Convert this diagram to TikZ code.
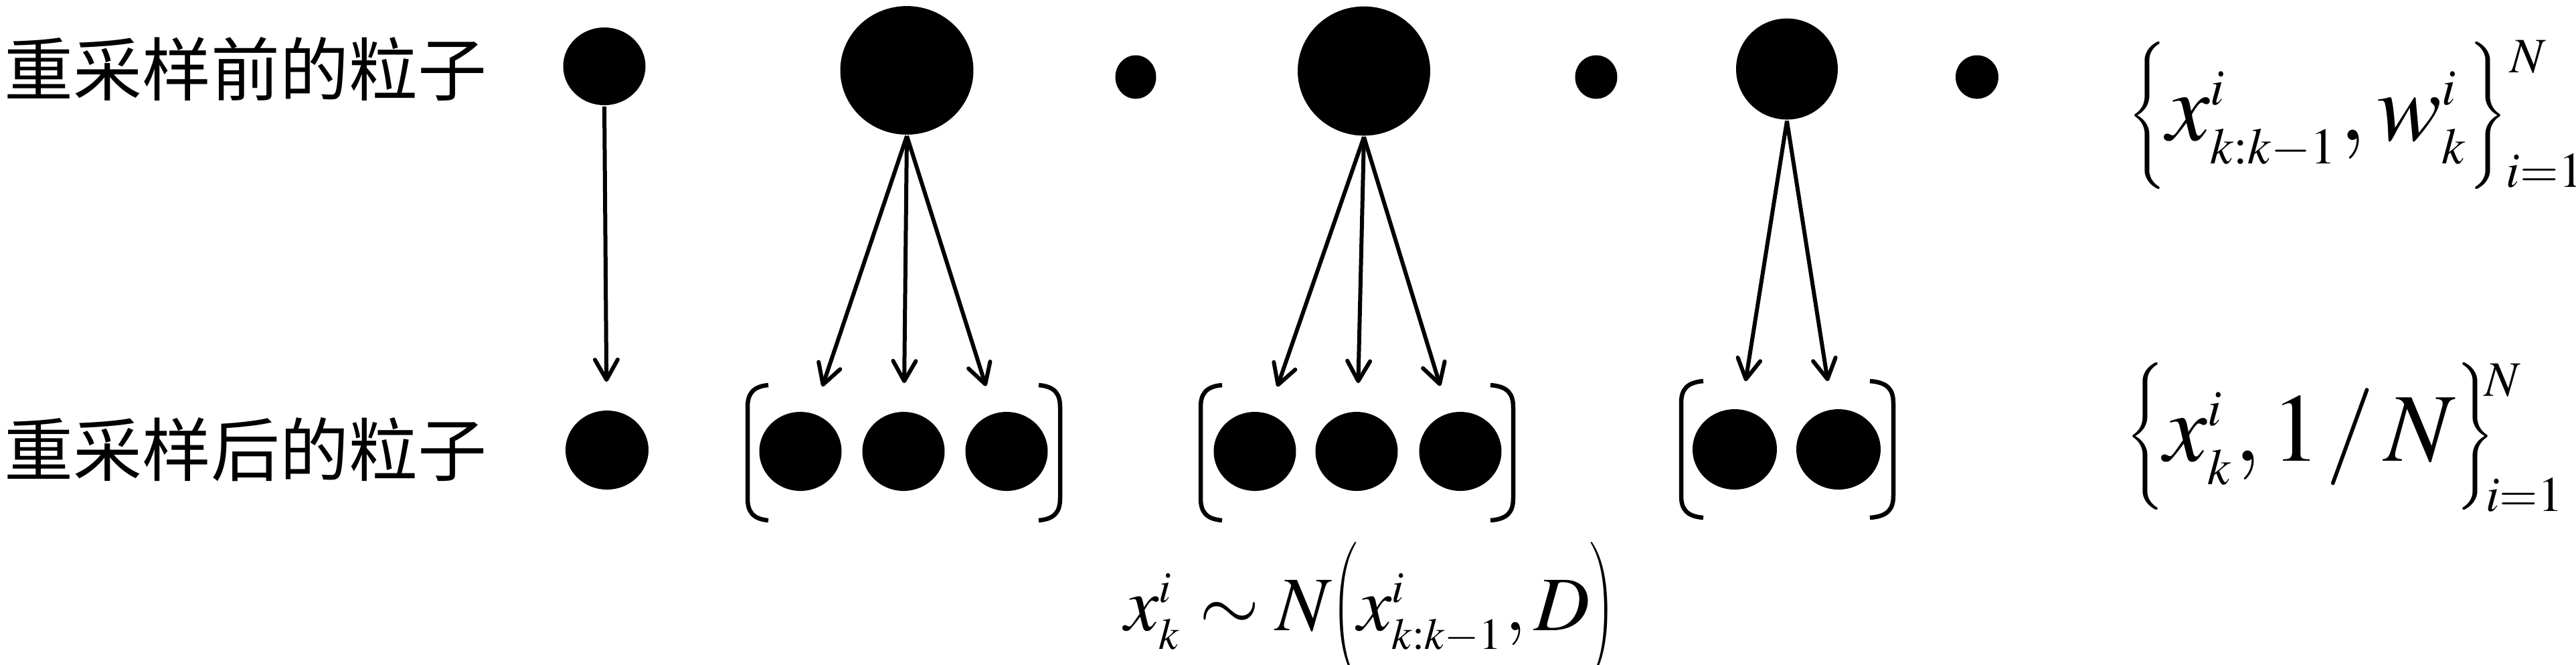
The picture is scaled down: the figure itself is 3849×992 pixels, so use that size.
\documentclass[tikz,border=0pt]{standalone}
\usepackage{mathptmx}
\usepackage{graphicx}
\usepackage[no-math]{fontspec}
\newfontfamily\cjk{Noto Sans CJK SC}
\usetikzlibrary{arrows.meta,shapes.geometric}
\DeclareMathSizes{14.5}{14.5}{7.6}{6}
\DeclareMathSizes{11.5}{11.5}{6.6}{5}
\DeclareMathSizes{7.4}{7.4}{5.5}{5}
\newcommand\myLbrace[2]{\mathopen{\vcenter{\hbox{\resizebox*{#1}{#2}{$\Biggl\{$}}}}}
\newcommand\myRbrace[2]{\mathclose{\vcenter{\hbox{\resizebox*{#1}{#2}{$\Biggr\}$}}}}}
\newcommand\myLparen[2]{\mathopen{\vcenter{\hbox{\resizebox*{#1}{#2}{$\Biggl($}}}}}
\newcommand\myRparen[2]{\mathclose{\vcenter{\hbox{\resizebox*{#1}{#2}{$\Biggr)$}}}}}
\tikzset{
  ptc/.style n args={2}{ellipse,fill=black,draw=none,inner sep=0pt,minimum width=#1,minimum height=#2},
  arr/.style={-{Straight Barb[length=3pt,width=3.4pt,round]},line width=0.6pt,shorten >=4.1pt},
  brk/.style={line width=0.65pt},
  lbl/.style={inner sep=0pt,font=\cjk\fontsize{10.3}{12}\selectfont},
  fml/.style={inner sep=0pt},
  lim/.style={inner sep=0pt,anchor=base west,font=\fontsize{7.4}{9}\selectfont},
}
\begin{document}
\begin{tikzpicture}[x=0.1pt,y=-0.1pt]
\useasboundingbox (0,0) rectangle (3849,992);
% labels
\node[lbl,anchor=west] (t1) at (5,103) {重采样前的粒子};
\node[lbl,anchor=west] (t2) at (5,671) {重采样后的粒子};
% top particles
\node[ptc={12.3pt}{11.6pt}] (a1) at (903,99) {};
\node[ptc={19.9pt}{19.2pt}] (a2) at (1355,105) {};
\node[ptc={6.1pt}{6.5pt}] (s1) at (1697,115) {};
\node[ptc={19.8pt}{19.3pt}] (a3) at (2038,106) {};
\node[ptc={6.3pt}{6.5pt}] (s2) at (2385,115) {};
\node[ptc={15.2pt}{15.1pt}] (a4) at (2670,103) {};
\node[ptc={6.4pt}{6.5pt}] (s3) at (2954,115) {};
% bottom particles
\node[ptc={12.4pt}{11.8pt}] (b1) at (907,672) {};
\node[ptc={12.3pt}{11.8pt}] (c11) at (1196,674) {};
\node[ptc={12.3pt}{11.8pt}] (c12) at (1350,674) {};
\node[ptc={12.3pt}{11.8pt}] (c13) at (1504,674) {};
\node[ptc={12.3pt}{11.8pt}] (c21) at (1875,674) {};
\node[ptc={12.3pt}{11.8pt}] (c22) at (2027,674) {};
\node[ptc={12.3pt}{11.8pt}] (c23) at (2182,674) {};
\node[ptc={12.6pt}{12pt}] (c31) at (2592,671) {};
\node[ptc={12.6pt}{12pt}] (c32) at (2747,671) {};
% arrows
\draw[arr] (a1.south) -- (b1);
\draw[arr] (a2.south) -- (c11);
\draw[arr] (a2.south) -- (c12);
\draw[arr] (a2.south) -- (c13);
\draw[arr] (a3.south) -- (c21);
\draw[arr] (a3.south) -- (c22);
\draw[arr] (a3.south) -- (c23);
\draw[arr] (a4.south) -- (c31);
\draw[arr] (a4.south) -- (c32);
% brackets group 1
\draw[brk] (1148,575) .. controls (1125,577) and (1117,588) .. (1117,608) -- (1117,744) .. controls (1117,764) and (1125,775) .. (1148,777);
\draw[brk] (1552,575) .. controls (1576,577) and (1584,588) .. (1584,608) -- (1584,744) .. controls (1584,764) and (1576,775) .. (1552,777);
% group 2
\draw[brk] (1826,575) .. controls (1802,577) and (1794,588) .. (1794,608) -- (1794,744) .. controls (1794,764) and (1802,775) .. (1826,777);
\draw[brk] (2227,575) .. controls (2253,577) and (2261,588) .. (2261,608) -- (2261,744) .. controls (2261,764) and (2253,775) .. (2227,777);
% group 3
\draw[brk] (2545,569) .. controls (2520,571) and (2512,582) .. (2512,602) -- (2512,740) .. controls (2512,760) and (2520,771) .. (2545,773);
\draw[brk] (2794,569) .. controls (2821,571) and (2829,582) .. (2829,602) -- (2829,740) .. controls (2829,760) and (2821,771) .. (2794,773);
% formulas
\node[fml,anchor=base west,font=\fontsize{14.5}{16}\selectfont] (f1) at (3178,209)
  {$\myLbrace{5.8pt}{22pt}x^{i}_{k:k-1},w^{i}_{k}\myRbrace{5.8pt}{22pt}$};
\node[lim] (f1N) at (3748,108) {$N$};
\node[lim] (f1i) at (3743,279) {$i{=}1$};
\node[fml,anchor=base west,font=\fontsize{14.5}{16}\selectfont] (f2) at (3174,688)
  {$\myLbrace{5.8pt}{22pt}x^{i}_{k},1\mkern1mu/\mkern2mu N\myRbrace{5.8pt}{22pt}$};
\node[lim] (f2N) at (3710,591) {$N$};
\node[lim] (f2i) at (3712,763) {$i{=}1$};
\node[fml,anchor=base west,font=\fontsize{11.5}{13}\selectfont] (f3) at (1678,941)
  {$x^{i}_{k}\sim N\myLparen{3.8pt}{20.5pt}x^{i}_{k:k-1},D\myRparen{3.8pt}{20.5pt}$};
\end{tikzpicture}
\end{document}
